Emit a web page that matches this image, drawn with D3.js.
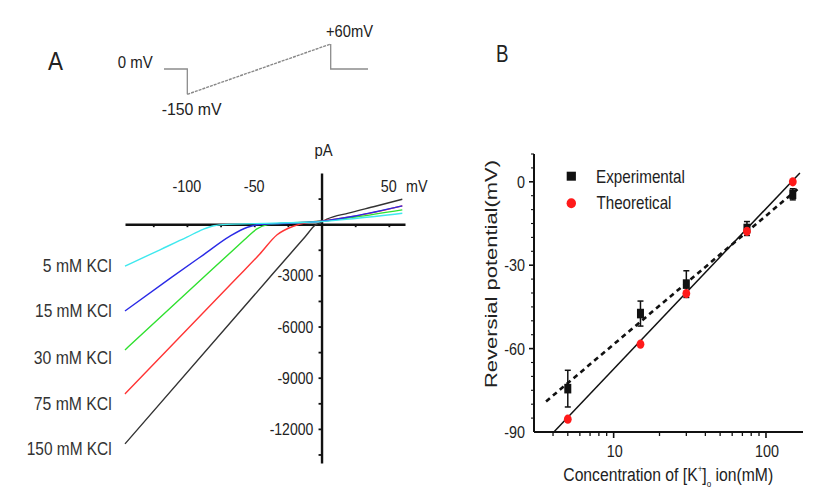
<!DOCTYPE html>
<html><head><meta charset="utf-8">
<script src="https://cdn.jsdelivr.net/npm/d3@7"></script>
<style>body{margin:0;background:#fff}svg{display:block}</style>
</head><body>
<svg id="c" width="827" height="504"></svg>
<script>
// ---------- DATA ----------
// Panel A: voltage protocol
const protoTime = [0, 20, 20, 143, 143, 175];
const protoVolt = [0, 0, -150, 60, 0, 0];
// Panel A: I-V curves (mV, pA)
const kclLabels = ["5 mM KCl", "15 mM KCl", "30 mM KCl", "75 mM KCl", "150 mM KCl"];
const v5   = [-146, -120, -100, -88, -80, -70, -50, -25, 0, 25, 60];
const i5   = [-2460, -1500, -760, -300, -90, -10, 30, 80, 150, 330, 640];
const v15  = [-146, -112, -88, -68, -55, -46, -30, 0, 25, 60];
const i15  = [-5090, -3150, -1810, -700, -180, -20, 40, 170, 480, 1070];
const v30  = [-146, -86, -68, -56, -48, -40, -31, 0, 25, 60];
const i30  = [-7370, -3000, -1690, -820, -280, -30, 40, 170, 420, 840];
const v75  = [-146, -63, -46, -33, -21, -11, 0, 25, 60];
const i75  = [-9950, -3160, -1760, -620, -120, 90, 190, 470, 1070];
const v150 = [-146, -40.5, -23.5, -12, -5, 0, 4, 20, 40, 60];
const i150 = [-12880, -3300, -1760, -720, -80, 120, 290, 650, 1050, 1460];
const ivXTicks = [-100, -50, 50];
const ivYTicks = [-3000, -6000, -9000, -12000];
// Panel B
const conc = [5, 15, 30, 75, 150];
const expMean = [-74.4, -47.4, -36.8, -16.8, -4.5];
const expErr = [6.6, 4.5, 4.8, 2.5, 2];
const theoVal = [-85.4, -58.4, -40.2, -17.8, 0];
const fitTheoX = [4.05, 167], fitTheoY = [-90, 3.2];
const fitExpX = [3.6, 168], fitExpY = [-79, -1.8];
const bYTicks = [0, -30, -60, -90];
const bXTicks = [10, 100];
const legendNames = ["Experimental", "Theoretical"];

// ---------- DRAW ----------
const svg = d3.select("#c").attr("font-family", "'Liberation Sans', Arial, sans-serif");
const TXT = "#222";

function label(parent, str, x, y, o) {
  const t = parent.append("text").attr("font-size", o.size)
    .attr("text-anchor", o.anchor || "start").attr("fill", o.fill || TXT).text(str);
  const nat = t.node().getComputedTextLength();
  const s = o.width ? o.width / nat : (o.sx || 1);
  let tr = `translate(${x},${y})`;
  if (o.rotate) tr += ` rotate(${o.rotate})`;
  tr += ` scale(${s},${o.sy || 1.05})`;
  t.attr("transform", tr);
  return t;
}

// Panel letters
label(svg, "A", 48, 70, {size: 24, width: 15});
label(svg, "B", 496, 61.7, {size: 23, width: 12.5});

// Protocol
const xP = d3.scaleLinear().domain([0, 175]).range([164, 368]);
const yP = d3.scaleLinear().domain([-150, 0, 60]).range([94.3, 69, 44]);
const proto = protoTime.map((t, i) => [t, protoVolt[i]]);
const pline = d3.line().x(d => xP(d[0])).y(d => yP(d[1]));
svg.append("path").attr("d", pline(proto.slice(0, 3))).attr("fill", "none").attr("stroke", "#8c8c8c").attr("stroke-width", 1.3);
svg.append("path").attr("d", pline(proto.slice(3))).attr("fill", "none").attr("stroke", "#8c8c8c").attr("stroke-width", 1.3);
svg.append("path").attr("d", pline(proto.slice(2, 4))).attr("fill", "none").attr("stroke", "#888").attr("stroke-width", 1.4).attr("stroke-dasharray", "3,1");
label(svg, "0 mV", 152.7, 68.3, {size: 15, anchor: "end", width: 35});
label(svg, "-150 mV", 161.7, 115, {size: 15, width: 60});
label(svg, "+60mV", 326, 36.7, {size: 15, width: 47});

// I-V plot
const xA = d3.scaleLinear().domain([-146, 62]).range([125, 405]);
const yA = d3.scaleLinear().domain([3000, -14000]).range([173, 463]);
const gA = svg.append("g");
const xAxisA = d3.axisBottom(xA).tickValues([-125, -100, -75, -50, -25, 25, 50]).tickSize(3).tickSizeOuter(0).tickFormat("");
const gx = gA.append("g").attr("transform", `translate(0,${yA(0)})`).call(xAxisA);
gx.select(".domain").attr("stroke", "#111").attr("stroke-width", 2.4);
gx.selectAll(".tick line").attr("stroke", "#111").attr("stroke-width", 1.8);
const yAxisA = d3.axisLeft(yA).tickValues(d3.range(1500, -14000, -1500)).tickSize(3).tickSizeOuter(0).tickFormat("");
const gy = gA.append("g").attr("transform", `translate(${xA(0)},0)`).call(yAxisA);
gy.select(".domain").attr("stroke", "#111").attr("stroke-width", 2.4);
gy.selectAll(".tick line").attr("stroke", "#111").attr("stroke-width", 1.8);
ivXTicks.forEach(v => label(gA, String(v), xA(v), 191.7, {size: 16.5, anchor: "middle", sx: 0.87}));
label(gA, "mV", 406, 191.7, {size: 16.5, sx: 0.87});
label(gA, "pA", xA(0) + 2, 156, {size: 16.5, anchor: "middle", sx: 0.9});
ivYTicks.forEach(v => label(gA, String(v), 313.3, yA(v) + 6, {size: 16.5, anchor: "end", sx: 0.85}));

const series = [
  {v: v150, i: i150, c: "#333333"},
  {v: v75, i: i75, c: "#ff3434"},
  {v: v30, i: i30, c: "#2fe02f"},
  {v: v15, i: i15, c: "#2a2ae6"},
  {v: v5, i: i5, c: "#3ee8ee"}
];
const ivLine = d3.line().x(d => xA(d[0])).y(d => yA(d[1])).curve(d3.curveMonotoneX);
series.forEach(s => {
  gA.append("path").datum(s.v.map((v, k) => [v, s.i[k]]))
    .attr("d", ivLine).attr("fill", "none").attr("stroke", s.c).attr("stroke-width", 1.4);
});
const kclBase = [271.5, 317, 364, 410, 455];
const kclWidth = [69, 76.7, 78, 78, 85];
kclLabels.forEach((t, k) => label(gA, t, 111.7, kclBase[k], {size: 17, anchor: "end", width: kclWidth[k], fill: "#333"}));

// Panel B
const xB = d3.scaleLog().domain([3, 175]).range([534, 803]);
const yB = d3.scaleLinear().domain([-90, 10]).range([432, 154]);
const gB = svg.append("g");
gB.append("line").attr("x1", xB(3)).attr("x2", xB(175)).attr("y1", yB(-90)).attr("y2", yB(-90)).attr("stroke", "#111").attr("stroke-width", 2);
gB.append("line").attr("x1", xB(3)).attr("x2", xB(3)).attr("y1", yB(-90)).attr("y2", yB(10)).attr("stroke", "#111").attr("stroke-width", 2);
const minorX = [4, 5, 6, 7, 8, 9, 20, 30, 40, 50, 60, 70, 80, 90];
minorX.forEach(v => gB.append("line").attr("x1", xB(v)).attr("x2", xB(v)).attr("y1", yB(-90) - 1).attr("y2", yB(-90) + 4).attr("stroke", "#111").attr("stroke-width", 1.3));
bXTicks.forEach(v => gB.append("line").attr("x1", xB(v)).attr("x2", xB(v)).attr("y1", yB(-90) - 1).attr("y2", yB(-90) + 6).attr("stroke", "#111").attr("stroke-width", 1.6));
d3.range(-85, 15, 5).forEach(v => {
  const major = bYTicks.includes(v);
  gB.append("line").attr("x1", xB(3) - (major ? 5 : 3)).attr("x2", xB(3)).attr("y1", yB(v)).attr("y2", yB(v)).attr("stroke", "#111").attr("stroke-width", major ? 1.6 : 1.1);
});
bYTicks.forEach(v => label(gB, String(v), 525, yB(v) + 6, {size: 16.5, anchor: "end", sx: 0.87}));
bXTicks.forEach(v => label(gB, String(v), xB(v) + 1, 456.7, {size: 16.5, anchor: "middle", sx: 0.87}));

const xt = gB.append("text").attr("font-size", 17.5).attr("fill", TXT);
xt.append("tspan").text("Concentration of [K");
xt.append("tspan").attr("font-size", 9).attr("dy", -8).text("+");
xt.append("tspan").attr("dy", 8).text("]");
xt.append("tspan").attr("font-size", 9).attr("dy", 6).text("o");
xt.append("tspan").attr("dy", -6).text(" ion(mM)");
{
  const nat = xt.node().getComputedTextLength();
  xt.attr("transform", `translate(563.3,480.7) scale(${210 / nat},1.05)`);
}
label(gB, "Reversial potential(mV)", 497, 274, {size: 16.5, anchor: "middle", rotate: -90, width: 228, sy: 1});

const fl = d3.line().x(d => xB(d[0])).y(d => yB(d[1]));
gB.append("path").attr("d", fl(fitTheoX.map((x, k) => [x, fitTheoY[k]]))).attr("stroke", "#111").attr("stroke-width", 1.5).attr("fill", "none");
gB.append("path").attr("d", fl(fitExpX.map((x, k) => [x, fitExpY[k]]))).attr("stroke", "#111").attr("stroke-width", 2.6).attr("stroke-dasharray", "5,4").attr("fill", "none");

conc.forEach((c, k) => {
  const x = xB(c), y1 = yB(expMean[k] + expErr[k]), y2 = yB(expMean[k] - expErr[k]);
  gB.append("line").attr("x1", x).attr("x2", x).attr("y1", y1).attr("y2", y2).attr("stroke", "#111").attr("stroke-width", 1.5);
  [y1, y2].forEach(y => gB.append("line").attr("x1", x - 3).attr("x2", x + 3).attr("y1", y).attr("y2", y).attr("stroke", "#111").attr("stroke-width", 1.5));
  gB.append("rect").attr("x", x - 3.5).attr("y", yB(expMean[k]) - 4.8).attr("width", 7).attr("height", 9.6).attr("fill", "#111");
});
conc.forEach((c, k) => {
  gB.append("ellipse").attr("cx", xB(c)).attr("cy", yB(theoVal[k])).attr("rx", 3.9).attr("ry", 4.6).attr("fill", "#ff1a1a");
});

gB.append("rect").attr("x", 571.3 - 4.6).attr("y", 176.2 - 4.5).attr("width", 9.2).attr("height", 9).attr("fill", "#111");
gB.append("ellipse").attr("cx", 571.3).attr("cy", 203.3).attr("rx", 4.7).attr("ry", 5).attr("fill", "#ff1a1a");
label(gB, legendNames[0], 596, 182.7, {size: 17.5, width: 89});
label(gB, legendNames[1], 596.5, 209.3, {size: 17.5, width: 75});
</script>
</body></html>
